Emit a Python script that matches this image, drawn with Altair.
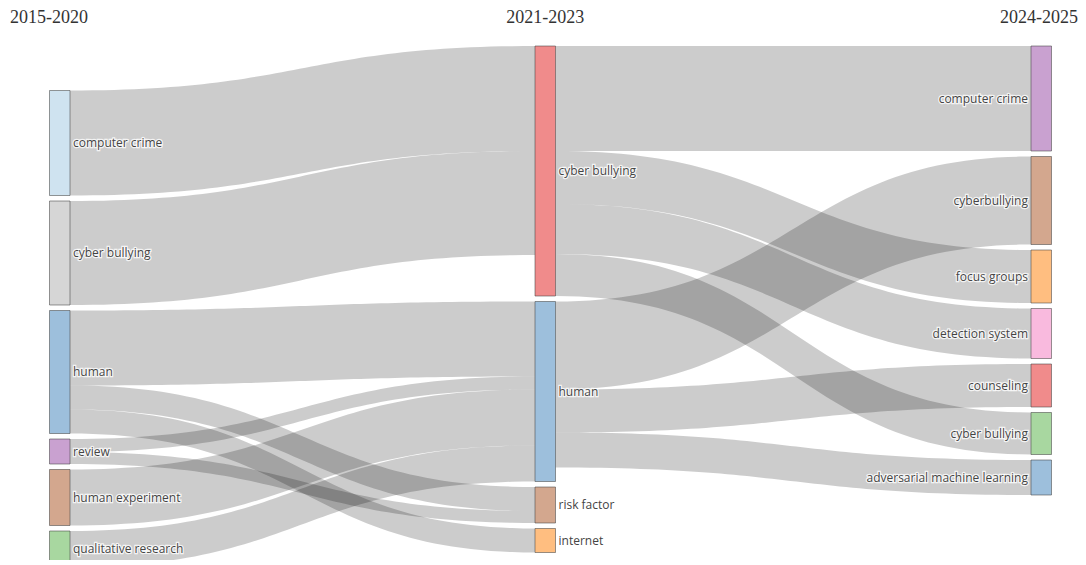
import altair as alt
import numpy as np
import pandas as pd

# ---------------- data ----------------
periods = ["2015-2020", "2021-2023", "2024-2025"]

nodes_p1 = ["computer crime", "cyber bullying", "human", "review",
            "human experiment", "qualitative research"]
nodes_p2 = ["cyber bullying", "human", "risk factor", "internet"]
nodes_p3 = ["computer crime", "cyberbullying", "focus groups", "detection system",
            "counseling", "cyber bullying", "adversarial machine learning"]

colors_p1 = ["#cfe3f0", "#d6d6d6", "#9dbfdc", "#c9a1d0", "#d3a78e", "#a8d7a0"]
colors_p2 = ["#f08b8b", "#9dbfdc", "#d3a78e", "#ffbe80"]
colors_p3 = ["#c9a1d0", "#d3a78e", "#ffbe80", "#f9bade", "#f08b8b", "#a8d7a0", "#9dbfdc"]

# flows 2015-2020 -> 2021-2023
flow1_source = ["computer crime", "cyber bullying", "human", "human", "human",
                "review", "review", "human experiment", "qualitative research"]
flow1_target = ["cyber bullying", "cyber bullying", "human", "risk factor", "internet",
                "human", "risk factor", "human", "human"]
flow1_value = [105, 104, 75, 24, 24, 13, 12, 56, 36]

# flows 2021-2023 -> 2024-2025
flow2_source = ["cyber bullying", "cyber bullying", "cyber bullying", "cyber bullying",
                "human", "human", "human"]
flow2_target = ["computer crime", "focus groups", "detection system", "cyber bullying",
                "cyberbullying", "counseling", "adversarial machine learning"]
flow2_value = [105, 53, 50, 42, 88, 43, 35]

# ---------------- layout settings ----------------
W, H = 1070, 552
COL_X = [41.5, 527.0, 1023.0]
NODE_W = 20.5
COL_TOP = [82.5, 38.0, 38.0]
GAP = 5.5

columns = [nodes_p1, nodes_p2, nodes_p3]
col_colors = [colors_p1, colors_p2, colors_p3]
flows = [(flow1_source, flow1_target, flow1_value),
         (flow2_source, flow2_target, flow2_value)]

# node sizes = max(inflow, outflow)
size = {}
for c, names in enumerate(columns):
    for n in names:
        inflow = 0.0
        outflow = 0.0
        if c > 0:
            s, t, v = flows[c - 1]
            inflow = sum(val for tt, val in zip(t, v) if tt == n)
        if c < len(columns) - 1:
            s, t, v = flows[c]
            outflow = sum(val for ss, val in zip(s, v) if ss == n)
        size[(c, n)] = max(inflow, outflow)

node_rows = []
ypos = {}
for c, names in enumerate(columns):
    y = COL_TOP[c]
    for i, n in enumerate(names):
        h = size[(c, n)]
        ypos[(c, n)] = y
        node_rows.append(dict(col=c, name=n, x0=COL_X[c], x1=COL_X[c] + NODE_W,
                              y0=y, y1=y + h, yc=y + h / 2, color=col_colors[c][i],
                              lx=(COL_X[c] + NODE_W + 3) if c < 2 else (COL_X[c] - 3)))
        y += h + GAP
nodes_df = pd.DataFrame(node_rows)

# link ribbons (cubic Bezier between node edges, sampled along the curve)
link_rows = []
lid = 0
tgrid = np.linspace(0, 1, 60)
for c, (s, t, v) in enumerate(flows):
    order_src = {n: i for i, n in enumerate(columns[c])}
    order_tgt = {n: i for i, n in enumerate(columns[c + 1])}
    idx = list(range(len(v)))
    out_off = {n: ypos[(c, n)] for n in columns[c]}
    in_off = {n: ypos[(c + 1, n)] for n in columns[c + 1]}
    sy = {}
    for i in sorted(idx, key=lambda k: (order_src[s[k]], order_tgt[t[k]])):
        sy[i] = out_off[s[i]]
        out_off[s[i]] += v[i]
    ty = {}
    for i in sorted(idx, key=lambda k: (order_tgt[t[k]], order_src[s[k]])):
        ty[i] = in_off[t[i]]
        in_off[t[i]] += v[i]
    x0 = COL_X[c] + NODE_W
    x1 = COL_X[c + 1]
    for i in idx:
        for k, tt in enumerate(tgrid):
            xx = x0 + (x1 - x0) * (1.5 * tt * (1 - tt) + tt ** 3)
            f = 3 * tt ** 2 - 2 * tt ** 3
            top = sy[i] + (ty[i] - sy[i]) * f
            link_rows.append(dict(link=f"L{lid}", px=float(xx), ytop=float(top),
                                  ybot=float(top + v[i])))
        lid += 1
links_df = pd.DataFrame(link_rows)

xs = alt.Scale(domain=[0, W])
ys = alt.Scale(domain=[0, H], reverse=True)

links = alt.Chart(links_df).mark_area(
    fill="#000000", fillOpacity=0.2, orient="vertical"
).encode(
    x=alt.X("px:Q", scale=xs, axis=None),
    y=alt.Y("ytop:Q", scale=ys, axis=None, stack=None),
    y2=alt.Y2("ybot:Q"),
    detail=alt.Detail("link:N"),
)

nodes = alt.Chart(nodes_df).mark_rect(
    stroke="#444", strokeWidth=1, strokeOpacity=0.55, clip=True
).encode(
    x=alt.X("x0:Q", scale=xs, axis=None), x2="x1:Q",
    y=alt.Y("y0:Q", scale=ys, axis=None), y2="y1:Q",
    fill=alt.Fill("color:N", scale=None),
)

FONT = "Open Sans"
FS = 12

def labels(df, align, halo):
    kw = dict(align=align, baseline="middle", font=FONT, fontSize=FS)
    if halo:
        kw.update(stroke="white", strokeWidth=2.5, strokeOpacity=0.8, fill="white")
    else:
        kw.update(color="#444")
    return alt.Chart(df).mark_text(**kw).encode(
        x=alt.X("lx:Q", scale=xs, axis=None),
        y=alt.Y("yc:Q", scale=ys, axis=None),
        text="name:N",
    )

left_df = nodes_df[nodes_df.col < 2]
right_df = nodes_df[nodes_df.col == 2]

head_df = pd.DataFrame(dict(text=periods, hx=[2, COL_X[1] + NODE_W / 2, W], hy=[10, 10, 10]))

def heading(i, align):
    return alt.Chart(head_df.iloc[[i]]).mark_text(
        align=align, baseline="middle", font="Liberation Serif", fontSize=18, color="#333"
    ).encode(
        x=alt.X("hx:Q", scale=xs, axis=None),
        y=alt.Y("hy:Q", scale=ys, axis=None),
        text="text:N",
    )

chart = alt.layer(
    links, nodes,
    labels(left_df, "left", True), labels(right_df, "right", True),
    labels(left_df, "left", False), labels(right_df, "right", False),
    heading(0, "left"), heading(1, "center"), heading(2, "right"),
).properties(
    width=W, height=H, padding=0,
    autosize=alt.AutoSizeParams(type="none"),
).configure_view(stroke=None)

chart.save("out.html", embed_options={"renderer": "svg", "actions": False})
